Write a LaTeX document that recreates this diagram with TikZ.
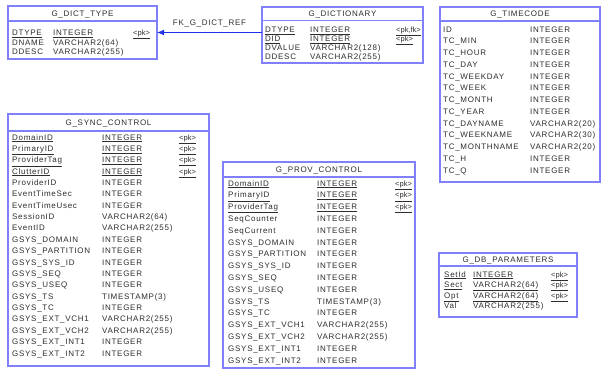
\documentclass[tikz,border=0pt]{standalone}
\usepackage{fontspec}
\setmainfont{Liberation Sans}[LetterSpace=9]
\newfontfamily\keyfont{Liberation Sans}
\usetikzlibrary{arrows.meta}
\definecolor{tblue}{RGB}{128,128,250}
\definecolor{fkblue}{RGB}{30,50,235}
\definecolor{txt}{RGB}{45,45,45}
\tikzset{
  tbox/.style={draw=tblue, line width=1.6pt, fill=white, inner sep=0pt, outer sep=0pt, anchor=north west},
  sepline/.style={draw=tblue, line width=1.4pt},
  cell/.style={anchor=base west, inner sep=0pt, font=\fontsize{8}{9}\selectfont, text=txt},
  keycell/.style={anchor=base west, inner sep=0pt, font=\keyfont\fontsize{7.5}{9}\selectfont, text=txt},
  ttl/.style={anchor=base, inner sep=0pt, font=\fontsize{8}{9}\selectfont, text=txt},
  fkline/.style={draw=fkblue, line width=1.2pt, -{Latex[length=7pt,width=6pt]}},
  fklab/.style={inner sep=0pt, font=\fontsize{8}{9}\selectfont, text=txt},
}
% prefix, index, row-centre y, x1, x2, x3, name, type, key
\newcommand\pkrow[9]{%
  \node[cell] (#1n#2) at (#4,#3+3) {\underline{#7}};
  \node[cell] (#1t#2) at (#5,#3+3) {\underline{#8}};
  \node[keycell] (#1k#2) at (#6,#3+3) {\underline{#9}};}
\begin{document}
\begin{tikzpicture}[x=1pt,y=-1pt]
\useasboundingbox (0,0) rectangle (602,370);

% ---------- G_DICT_TYPE ----------
\node[tbox, minimum width=149pt, minimum height=53pt] (dtype) at (8,6) {};
\node[ttl] (dtypeT) at (82.5,16.5) {G\_DICT\_TYPE};
\draw[sepline] (dtype.west |- 0,21) -- (dtype.east |- 0,21);
\pkrow{dt}{0}{32.5}{12}{53}{133}{DTYPE}{INTEGER}{<pk>}
\node[cell] (dtn1) at (12,45) {DNAME};
\node[cell] (dtt1) at (53,45) {VARCHAR2(64)};
\node[cell] (dtn2) at (12,54.5) {DDESC};
\node[cell] (dtt2) at (53,54.5) {VARCHAR2(255)};

% ---------- G_DICTIONARY ----------
\node[tbox, minimum width=161pt, minimum height=56pt] (dict) at (262,7) {};
\node[ttl] (dictT) at (342.5,16.5) {G\_DICTIONARY};
\draw[sepline] (dict.west |- 0,20.5) -- (dict.east |- 0,20.5);
\pkrow{dc}{0}{29.5}{265}{310}{396}{DTYPE}{INTEGER}{<pk,fk>}
\pkrow{dc}{1}{38.5}{265}{310}{396}{DID}{INTEGER}{<pk>}
\node[cell] (dcn2) at (265,50.5) {DVALUE};
\node[cell] (dct2) at (310,50.5) {VARCHAR2(128)};
\node[cell] (dcn3) at (265,59.5) {DDESC};
\node[cell] (dct3) at (310,59.5) {VARCHAR2(255)};

% ---------- FK arrow ----------
\draw[fkline] (dict.west |- dtype.east) -- node[fklab, midway, above=5pt] (fkl) {FK\_G\_DICT\_REF} (dtype.east);

% ---------- G_TIMECODE ----------
\node[tbox, minimum width=160pt, minimum height=175pt] (tc) at (440,7) {};
\node[ttl] (tcT) at (520,16.5) {G\_TIMECODE};
\draw[sepline] (tc.west |- 0,21) -- (tc.east |- 0,21);
\foreach \n/\t [count=\i from 0] in {ID/INTEGER, TC\_MIN/INTEGER, TC\_HOUR/INTEGER,
  TC\_DAY/INTEGER, TC\_WEEKDAY/INTEGER, TC\_WEEK/INTEGER, TC\_MONTH/INTEGER,
  TC\_YEAR/INTEGER, TC\_DAYNAME/VARCHAR2(20), TC\_WEEKNAME/VARCHAR2(30),
  TC\_MONTHNAME/VARCHAR2(20), TC\_H/INTEGER, TC\_Q/INTEGER}{
  \node[cell] (tcn\i) at (443,{29+11.75*\i+3}) {\n};
  \node[cell] (tct\i) at (530,{29+11.75*\i+3}) {\t};
}

% ---------- G_SYNC_CONTROL ----------
\node[tbox, minimum width=201pt, minimum height=252pt] (sc) at (8,114) {};
\node[ttl] (scT) at (108.5,125.5) {G\_SYNC\_CONTROL};
\draw[sepline] (sc.west |- 0,131) -- (sc.east |- 0,131);
\pkrow{sc}{0}{137}{12}{102}{179}{DomainID}{INTEGER}{<pk>}
\pkrow{sc}{1}{148.4}{12}{102}{179}{PrimaryID}{INTEGER}{<pk>}
\pkrow{sc}{2}{159.7}{12}{102}{179}{ProviderTag}{INTEGER}{<pk>}
\pkrow{sc}{3}{171.1}{12}{102}{179}{ClutterID}{INTEGER}{<pk>}
\foreach \n/\t [count=\i from 4] in {ProviderID/INTEGER, EventTimeSec/INTEGER,
  EventTimeUsec/INTEGER, SessionID/VARCHAR2(64), EventID/VARCHAR2(255),
  GSYS\_DOMAIN/INTEGER, GSYS\_PARTITION/INTEGER, GSYS\_SYS\_ID/INTEGER,
  GSYS\_SEQ/INTEGER, GSYS\_USEQ/INTEGER, GSYS\_TS/TIMESTAMP(3), GSYS\_TC/INTEGER,
  GSYS\_EXT\_VCH1/VARCHAR2(255), GSYS\_EXT\_VCH2/VARCHAR2(255),
  GSYS\_EXT\_INT1/INTEGER, GSYS\_EXT\_INT2/INTEGER}{
  \node[cell] (scn\i) at (12,{137+11.37*\i+3}) {\n};
  \node[cell] (sct\i) at (102,{137+11.37*\i+3}) {\t};
}

% ---------- G_PROV_CONTROL ----------
\node[tbox, minimum width=192pt, minimum height=206pt] (pc) at (223,162) {};
\node[ttl] (pcT) at (319,172) {G\_PROV\_CONTROL};
\draw[sepline] (pc.west |- 0,177) -- (pc.east |- 0,177);
\pkrow{pc}{0}{183}{228}{317}{395}{DomainID}{INTEGER}{<pk>}
\pkrow{pc}{1}{194.8}{228}{317}{395}{PrimaryID}{INTEGER}{<pk>}
\pkrow{pc}{2}{206.6}{228}{317}{395}{ProviderTag}{INTEGER}{<pk>}
\foreach \n/\t [count=\i from 3] in {SeqCounter/INTEGER, SeqCurrent/INTEGER,
  GSYS\_DOMAIN/INTEGER, GSYS\_PARTITION/INTEGER, GSYS\_SYS\_ID/INTEGER,
  GSYS\_SEQ/INTEGER, GSYS\_USEQ/INTEGER, GSYS\_TS/TIMESTAMP(3), GSYS\_TC/INTEGER,
  GSYS\_EXT\_VCH1/VARCHAR2(255), GSYS\_EXT\_VCH2/VARCHAR2(255),
  GSYS\_EXT\_INT1/INTEGER, GSYS\_EXT\_INT2/INTEGER}{
  \node[cell] (pcn\i) at (228,{183+11.8*\i+3}) {\n};
  \node[cell] (pct\i) at (317,{183+11.8*\i+3}) {\t};
}

% ---------- G_DB_PARAMETERS ----------
\node[tbox, minimum width=138pt, minimum height=64pt] (dbp) at (439,253) {};
\node[ttl] (dbpT) at (508,262) {G\_DB\_PARAMETERS};
\draw[sepline] (dbp.west |- 0,266) -- (dbp.east |- 0,266);
\pkrow{db}{0}{274}{444}{473}{551}{SetId}{INTEGER}{<pk>}
\pkrow{db}{1}{284.5}{444}{473}{551}{Sect}{VARCHAR2(64)}{<pk>}
\pkrow{db}{2}{295}{444}{473}{551}{Opt}{VARCHAR2(64)}{<pk>}
\node[cell] (dbn3) at (444,308.5) {Val};
\node[cell] (dbt3) at (473,308.5) {VARCHAR2(255)};
\end{tikzpicture}
\end{document}
